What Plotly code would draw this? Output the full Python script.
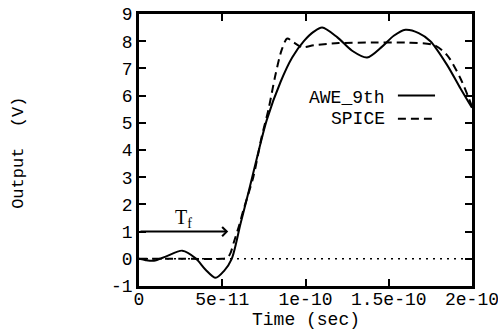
import plotly.graph_objects as go

# ---- data (time in seconds, output in volts) ----
awe_t = [0.0, 0.04e-10, 0.09e-10, 0.16e-10, 0.26e-10, 0.34e-10, 0.40e-10, 0.46e-10, 0.51e-10,
         0.557e-10, 0.61e-10, 0.66e-10, 0.71e-10, 0.767e-10, 0.85e-10, 0.92e-10, 0.99e-10,
         1.05e-10, 1.10e-10, 1.19e-10, 1.28e-10, 1.37e-10, 1.46e-10, 1.53e-10, 1.60e-10,
         1.68e-10, 1.75e-10, 1.85e-10, 1.93e-10, 2.0e-10]
awe_v = [0.0, -0.05, -0.07, 0.08, 0.30, 0.02, -0.40, -0.70, -0.45,
         0.0, 1.3, 2.5, 3.75, 5.1, 6.5, 7.4, 8.0,
         8.35, 8.5, 8.15, 7.65, 7.4, 7.8, 8.2, 8.42,
         8.3, 8.0, 7.13, 6.27, 5.55]

spice_t = [0.0, 0.25e-10, 0.50e-10, 0.53e-10, 0.55e-10, 0.57e-10, 0.60e-10, 0.627e-10, 0.687e-10,
           0.737e-10, 0.777e-10, 0.817e-10, 0.857e-10, 0.89e-10, 0.93e-10, 0.98e-10,
           1.05e-10, 1.2e-10, 1.4e-10, 1.6e-10, 1.77e-10, 1.85e-10, 1.93e-10, 2.0e-10]
spice_v = [0.0, 0.0, 0.0, 0.03, 0.22, 0.62, 1.2, 1.79, 3.02,
           4.49, 5.47, 6.69, 7.68, 8.1, 7.95, 7.78,
           7.85, 7.93, 7.95, 7.95, 7.86, 7.49, 6.64, 5.6]

x_tickvals = [0, 5e-11, 1e-10, 1.5e-10, 2e-10]
x_ticktext = ["0", "5e-11", "1e-10", "1.5e-10", "2e-10"]
y_tickvals = [-1, 0, 1, 2, 3, 4, 5, 6, 7, 8, 9]
y_ticktext = ["-1", "0", "1", "2", "3", "4", "5", "6", "7", "8", "9"]

series_names = ["AWE_9th", "SPICE"]
tf_label = "T<sub>f</sub>"
tf_time = 0.536e-10
tf_level = 1

MONO = "Liberation Mono"
FS = 18

fig = go.Figure()
fig.add_trace(go.Scatter(x=awe_t, y=awe_v, mode="lines", name=series_names[0],
                         line=dict(color="black", width=2, shape="spline", smoothing=0.8),
                         showlegend=False))
fig.add_trace(go.Scatter(x=spice_t, y=spice_v, mode="lines", name=series_names[1],
                         line=dict(color="black", width=2, dash="8px,5px", shape="spline", smoothing=0.8),
                         showlegend=False))

axis_common = dict(showgrid=False, zeroline=False, showline=True, linewidth=2.5, linecolor="black",
                   mirror="ticks", ticks="inside", ticklen=7, tickwidth=2, tickcolor="black",
                   automargin=False, ticklabeloverflow="allow",
                   tickfont=dict(family=MONO, size=FS, color="black"))

fig.update_layout(
    width=498, height=336, autosize=False,
    margin=dict(l=139, r=26, t=14, b=50),
    paper_bgcolor="white", plot_bgcolor="white",
    xaxis=dict(range=[0, 2e-10], tickmode="array", tickvals=x_tickvals, ticktext=x_ticktext,
               ticklabelstandoff=-5, **axis_common),
    yaxis=dict(range=[-1, 9], tickmode="array", tickvals=y_tickvals, ticktext=y_ticktext,
               **axis_common),
)

# zero axis (dotted)
fig.add_shape(type="line", xref="x", yref="y", x0=0, x1=2e-10, y0=0, y1=0,
              line=dict(color="black", width=1.5, dash="2px,5px"), layer="below")

# legend-like key (text left, sample right)
fig.add_annotation(xref="x", yref="y", x=1.49e-10, y=5.9, text=series_names[0], showarrow=False,
                   xanchor="right", font=dict(family=MONO, size=FS, color="black"))
fig.add_annotation(xref="x", yref="y", x=1.49e-10, y=5.15, text=series_names[1], showarrow=False,
                   xanchor="right", font=dict(family=MONO, size=FS, color="black"))
fig.add_shape(type="line", xref="x", yref="y", x0=1.555e-10, x1=1.778e-10, y0=6.0, y1=6.0,
              line=dict(color="black", width=2))
fig.add_shape(type="line", xref="x", yref="y", x0=1.555e-10, x1=1.778e-10, y0=5.15, y1=5.15,
              line=dict(color="black", width=2, dash="8px,5px"))

# Tf arrow and label
fig.add_annotation(xref="x", yref="y", x=tf_time, y=tf_level, ax=0, ay=tf_level,
                   axref="x", ayref="y", text="", showarrow=True, arrowhead=4,
                   arrowsize=0.9, arrowwidth=2, arrowcolor="black")
fig.add_annotation(xref="x", yref="y", x=0.265e-10, y=1.5, text=tf_label, showarrow=False,
                   font=dict(family="Liberation Serif", size=20, color="black"))

# axis titles
fig.add_annotation(xref="paper", yref="paper", x=0.5, y=-0.125, yanchor="middle", xanchor="center",
                   text="Time (sec)", showarrow=False,
                   font=dict(family=MONO, size=FS, color="black"))
fig.add_annotation(xref="paper", yref="paper", x=-0.36, y=0.49, text="Output  (V)",
                   textangle=-90, showarrow=False, xanchor="center", yanchor="middle",
                   font=dict(family=MONO, size=17, color="black"))

# remove the browser's default 8px body margin so the figure sits at the page origin
fig.write_html("out.html", config={"displayModeBar": False},
               post_script="document.body.style.margin='0px';")
